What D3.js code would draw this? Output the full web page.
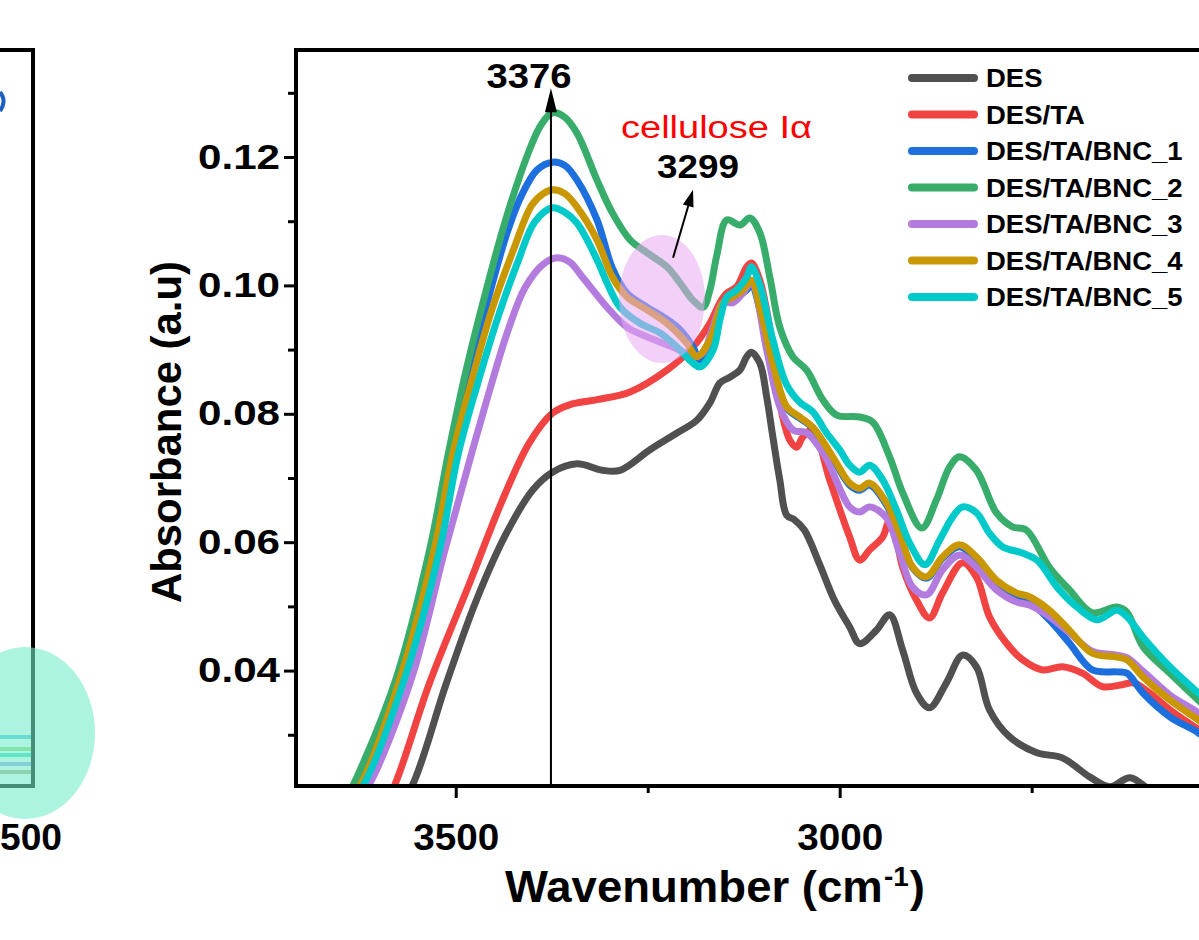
<!DOCTYPE html>
<html><head><meta charset="utf-8">
<script src="https://cdn.jsdelivr.net/npm/d3@7"></script>
<style>
body{margin:0;background:#fff;}
svg{display:block;font-family:"Liberation Sans",Arial,Helvetica,sans-serif;}
</style>
</head><body>
<svg id="c" width="1199" height="940"></svg>
<script>
// ---------------- data (wavenumber cm^-1, absorbance a.u.) ----------------
const DES = [[3575,0.0190],[3557,0.0220],[3512,0.0381],[3473,0.0510],[3434,0.0614],[3400,0.0681],[3374,0.0709],[3342,0.0722],[3309,0.0712],[3286,0.0712],[3247,0.0744],[3212,0.0770],[3186,0.0790],[3169,0.0817],[3156,0.0848],[3143,0.0857],[3130,0.0868],[3121,0.0889],[3115,0.0896],[3104,0.0879],[3095,0.0826],[3087,0.0764],[3078,0.0697],[3069,0.0642],[3059,0.0635],[3046,0.0619],[3026,0.0565],[3007,0.0510],[2987,0.0468],[2974,0.0442],[2952,0.0463],[2935,0.0487],[2918,0.0432],[2900,0.0365],[2883,0.0342],[2861,0.0381],[2840,0.0424],[2822,0.0406],[2805,0.0339],[2779,0.0297],[2743,0.0272],[2710,0.0264],[2674,0.0234],[2648,0.0219],[2622,0.0233],[2596,0.0214],[2570,0.0198],[2505,0.0152]];
const DES_TA = [[3600,0.0175],[3580,0.0220],[3534,0.0381],[3482,0.0536],[3439,0.0666],[3404,0.0755],[3374,0.0801],[3352,0.0814],[3316,0.0822],[3273,0.0834],[3225,0.0868],[3191,0.0904],[3169,0.0941],[3156,0.0973],[3147,0.0988],[3134,0.0998],[3121,0.1029],[3115,0.1035],[3104,0.1008],[3087,0.0904],[3078,0.0817],[3065,0.0759],[3056,0.0748],[3048,0.0764],[3035,0.0775],[3013,0.0697],[2987,0.0608],[2974,0.0572],[2961,0.0588],[2944,0.0608],[2935,0.0634],[2926,0.0603],[2918,0.0561],[2900,0.0510],[2883,0.0482],[2866,0.0521],[2840,0.0568],[2822,0.0546],[2805,0.0484],[2783,0.0443],[2762,0.0417],[2736,0.0401],[2710,0.0406],[2684,0.0396],[2658,0.0375],[2632,0.0378],[2618,0.0381],[2596,0.0365],[2570,0.0339],[2533,0.0308],[2505,0.0284]];
const BNC_1 = [[3640,0.0195],[3626,0.0220],[3574,0.0385],[3531,0.0583],[3507,0.0728],[3484,0.0850],[3457,0.0982],[3432,0.1086],[3414,0.1141],[3394,0.1180],[3374,0.1192],[3358,0.1187],[3342,0.1164],[3316,0.1102],[3296,0.1027],[3277,0.0988],[3251,0.0966],[3230,0.0951],[3208,0.0931],[3191,0.0904],[3182,0.0884],[3165,0.0907],[3152,0.0970],[3134,0.0982],[3121,0.0993],[3115,0.1004],[3104,0.0962],[3087,0.0876],[3069,0.0809],[3052,0.0793],[3035,0.0778],[3009,0.0731],[2987,0.0689],[2974,0.0681],[2961,0.0689],[2939,0.0658],[2922,0.0611],[2905,0.0560],[2887,0.0544],[2866,0.0575],[2844,0.0593],[2822,0.0572],[2796,0.0536],[2770,0.0515],[2753,0.0507],[2727,0.0479],[2701,0.0443],[2671,0.0401],[2639,0.0398],[2626,0.0396],[2605,0.0365],[2570,0.0328],[2533,0.0303],[2505,0.0276]];
const BNC_2 = [[3645,0.0195],[3629,0.0233],[3577,0.0390],[3534,0.0588],[3510,0.0736],[3488,0.0860],[3462,0.0985],[3433,0.1110],[3403,0.1214],[3389,0.1250],[3374,0.1269],[3358,0.1262],[3342,0.1237],[3316,0.1164],[3296,0.1113],[3273,0.1071],[3251,0.1051],[3225,0.1029],[3208,0.1004],[3191,0.0977],[3178,0.0966],[3169,0.0993],[3160,0.1047],[3147,0.1102],[3130,0.1094],[3117,0.1105],[3104,0.1082],[3091,0.1013],[3078,0.0935],[3061,0.0889],[3043,0.0868],[3022,0.0822],[3004,0.0798],[2974,0.0795],[2957,0.0787],[2935,0.0733],[2918,0.0677],[2893,0.0622],[2874,0.0666],[2857,0.0717],[2844,0.0733],[2822,0.0712],[2796,0.0646],[2775,0.0624],[2757,0.0619],[2727,0.0561],[2701,0.0526],[2671,0.0490],[2639,0.0499],[2626,0.0491],[2605,0.0437],[2570,0.0396],[2533,0.0354],[2505,0.0323]];
const BNC_3 = [[3625,0.0200],[3608,0.0233],[3557,0.0390],[3514,0.0588],[3478,0.0744],[3455,0.0840],[3433,0.0926],[3410,0.0996],[3386,0.1033],[3368,0.1043],[3351,0.1036],[3335,0.1013],[3303,0.0966],[3277,0.0935],[3251,0.0920],[3230,0.0910],[3208,0.0899],[3191,0.0889],[3178,0.0895],[3165,0.0935],[3152,0.0973],[3139,0.0973],[3126,0.0988],[3115,0.1004],[3095,0.0899],[3078,0.0811],[3061,0.0775],[3043,0.0770],[3020,0.0736],[2987,0.0655],[2974,0.0647],[2961,0.0655],[2939,0.0638],[2922,0.0583],[2905,0.0530],[2887,0.0518],[2866,0.0557],[2844,0.0580],[2822,0.0561],[2796,0.0526],[2770,0.0507],[2753,0.0502],[2727,0.0484],[2701,0.0459],[2671,0.0430],[2639,0.0424],[2626,0.0420],[2605,0.0399],[2570,0.0362],[2533,0.0334],[2505,0.0307]];
const BNC_4 = [[3642,0.0195],[3625,0.0220],[3573,0.0385],[3528,0.0588],[3504,0.0736],[3480,0.0848],[3453,0.0962],[3425,0.1055],[3401,0.1125],[3386,0.1143],[3374,0.1149],[3358,0.1143],[3342,0.1122],[3316,0.1071],[3296,0.1013],[3277,0.0982],[3251,0.0962],[3225,0.0941],[3199,0.0910],[3186,0.0889],[3169,0.0915],[3152,0.0973],[3139,0.0982],[3126,0.0993],[3115,0.1008],[3104,0.0966],[3087,0.0879],[3069,0.0811],[3052,0.0795],[3035,0.0779],[3009,0.0733],[2987,0.0692],[2974,0.0684],[2961,0.0692],[2939,0.0661],[2922,0.0614],[2905,0.0561],[2887,0.0546],[2866,0.0577],[2844,0.0596],[2822,0.0577],[2796,0.0541],[2770,0.0521],[2753,0.0515],[2727,0.0494],[2701,0.0463],[2671,0.0427],[2639,0.0421],[2626,0.0417],[2605,0.0390],[2570,0.0354],[2533,0.0323],[2505,0.0297]];
const BNC_5 = [[3638,0.0195],[3621,0.0220],[3566,0.0390],[3521,0.0588],[3497,0.0736],[3472,0.0845],[3444,0.0954],[3419,0.1037],[3397,0.1099],[3374,0.1121],[3358,0.1114],[3342,0.1097],[3316,0.1040],[3303,0.1004],[3286,0.0966],[3260,0.0941],[3234,0.0926],[3212,0.0904],[3191,0.0879],[3182,0.0873],[3165,0.0899],[3156,0.0946],[3147,0.0982],[3134,0.0993],[3121,0.1013],[3115,0.1029],[3104,0.1001],[3087,0.0915],[3069,0.0845],[3052,0.0818],[3035,0.0803],[3017,0.0770],[3000,0.0744],[2987,0.0720],[2974,0.0709],[2961,0.0720],[2944,0.0697],[2926,0.0650],[2909,0.0599],[2889,0.0565],[2870,0.0603],[2853,0.0639],[2840,0.0655],[2822,0.0646],[2805,0.0614],[2788,0.0593],[2762,0.0583],[2743,0.0572],[2717,0.0530],[2691,0.0499],[2665,0.0479],[2639,0.0494],[2626,0.0484],[2605,0.0452],[2570,0.0406],[2533,0.0365],[2505,0.0335]];

const seriesNames = ["DES","DES/TA","DES/TA/BNC_1","DES/TA/BNC_2","DES/TA/BNC_3","DES/TA/BNC_4","DES/TA/BNC_5"];
const seriesValues = [DES, DES_TA, BNC_1, BNC_2, BNC_3, BNC_4, BNC_5];
const xMajorTicks = [3500, 3000];
const xMinorTicks = [3250, 2750];
const yMajorTicks = [0.04, 0.06, 0.08, 0.10, 0.12];
const yMinorTicks = [0.03, 0.05, 0.07, 0.09, 0.11, 0.13];
const xDomain = [3708, 2480];
const yDomain = [0.02202, 0.13667];
const peakMain = 3376, peakMainArrowTop = 0.1307;
const peakCell = "3299", cellArrowFrom = [3217, 0.1043], cellArrowTo = [3191, 0.1149];

// ---------------- styles ----------------
const seriesColors = ["#505050","#f24343","#1c6fdd","#38ad6b","#b27bdd","#c99700","#00c9c9"];

const svg = d3.select("#c");
const L = 296, R = 1239, T = 50, B = 786;
const x = d3.scaleLinear().domain(xDomain).range([L, R]);
const y = d3.scaleLinear().domain(yDomain).range([B, T]);

const fit = (sel, w) => sel.attr("textLength", w).attr("lengthAdjust", "spacingAndGlyphs");

// ---------- left partial panel ----------
const lp = svg.append("g");
const leftLines = [[737,"#56c6dc"],[749,"#93d47a"],[755,"#3ed8c4"],[764,"#9aa6e0"],[772,"#b6a98a"]];
leftLines.forEach(d => lp.append("line").attr("x1",0).attr("x2",31).attr("y1",d[0]).attr("y2",d[0])
  .attr("stroke",d[1]).attr("stroke-width",4));
lp.append("path").attr("d","M0,50 H33 V786 H0").attr("fill","none").attr("stroke","#000").attr("stroke-width",4);
lp.append("path").attr("d","M0,92 Q7,101 0,111").attr("fill","none").attr("stroke","#1f5fc0").attr("stroke-width",4);
lp.append("ellipse").attr("cx",25).attr("cy",733).attr("rx",70).attr("ry",86)
  .attr("fill","rgb(119,237,203)").attr("opacity",0.6);
fit(lp.append("text").attr("x",0).attr("y",850).attr("font-size",36).attr("font-weight","bold").text("500"), 62);

// ---------- clip ----------
svg.append("defs").append("clipPath").attr("id","clip").append("rect")
  .attr("x",L).attr("y",T).attr("width",R-L).attr("height",B-T);

// ---------- lines ----------
const line = d3.line().x(d => x(d[0])).y(d => y(d[1])).curve(d3.curveCatmullRom.alpha(0.5));
const gl = svg.append("g").attr("clip-path","url(#clip)");
seriesValues.forEach((s,i) => {
  gl.append("path").attr("d", line(s)).attr("fill","none").attr("stroke",seriesColors[i])
    .attr("stroke-width",7).attr("stroke-linejoin","round").attr("stroke-linecap","round");
});

// pink highlight
gl.append("ellipse").attr("cx",662).attr("cy",299).attr("rx",43).attr("ry",64)
  .attr("fill","rgb(231,169,242)").attr("opacity",0.55);

// ---------- axes ----------
const xAxis = svg.append("g").attr("transform",`translate(0,${B})`)
  .call(d3.axisBottom(x).tickValues(xMajorTicks).tickSize(12).tickPadding(26).tickFormat(d3.format("d")));
svg.append("g").attr("transform",`translate(0,${B})`)
  .call(d3.axisBottom(x).tickValues(xMinorTicks).tickSize(7).tickFormat(""));
const yAxis = svg.append("g").attr("transform",`translate(${L},0)`)
  .call(d3.axisLeft(y).tickValues(yMajorTicks).tickSize(12).tickPadding(4).tickFormat(d3.format(".2f")));
svg.append("g").attr("transform",`translate(${L},0)`)
  .call(d3.axisLeft(y).tickValues(yMinorTicks).tickSize(8).tickFormat(""));
svg.selectAll(".domain").remove();
svg.selectAll(".tick line").attr("stroke","#000").attr("stroke-width",3);
xAxis.selectAll("text").attr("font-size",36).attr("font-weight","bold").attr("fill","#000")
  .attr("font-family","Liberation Sans, Arial, sans-serif").call(s => fit(s, 86));
yAxis.selectAll("text").attr("font-size",35).attr("font-weight","bold").attr("fill","#000")
  .attr("font-family","Liberation Sans, Arial, sans-serif").call(s => fit(s, 82));

// frame
svg.append("rect").attr("x",L).attr("y",T).attr("width",R-L).attr("height",B-T)
  .attr("fill","none").attr("stroke","#000").attr("stroke-width",4);

// ---------- annotations ----------
const xv = x(peakMain), yTop = y(peakMainArrowTop);
svg.append("line").attr("x1",xv).attr("x2",xv).attr("y1",B).attr("y2",yTop+10)
  .attr("stroke","#000").attr("stroke-width",2);
svg.append("path").attr("d",`M${xv},${yTop} L${xv-6},${yTop+24} L${xv+6},${yTop+24} Z`).attr("fill","#000");
fit(svg.append("text").attr("x",529).attr("y",88).attr("text-anchor","middle").attr("font-size",35)
  .attr("font-weight","bold").text(String(peakMain)), 85);

const ax0 = x(cellArrowFrom[0]), ay0 = y(cellArrowFrom[1]), ax1 = x(cellArrowTo[0]), ay1 = y(cellArrowTo[1]);
const ang = Math.atan2(ay1-ay0, ax1-ax0);
const hl = 17, hw = 5.5;
const bx = ax1 - hl*Math.cos(ang), by = ay1 - hl*Math.sin(ang);
svg.append("line").attr("x1",ax0).attr("y1",ay0).attr("x2",bx).attr("y2",by).attr("stroke","#000").attr("stroke-width",2);
svg.append("path").attr("d",`M${ax1},${ay1} L${bx - hw*Math.sin(ang)},${by + hw*Math.cos(ang)} L${bx + hw*Math.sin(ang)},${by - hw*Math.cos(ang)} Z`).attr("fill","#000");
fit(svg.append("text").attr("x",698).attr("y",178).attr("text-anchor","middle").attr("font-size",33)
  .attr("font-weight","bold").text(peakCell), 82);
fit(svg.append("text").attr("x",621).attr("y",138).attr("font-size",31).attr("fill","#ff0000")
  .text("cellulose Iα"), 191);

// ---------- legend ----------
const lg = svg.append("g");
const legY0 = 78, legDy = 36.5;
seriesNames.forEach((n,i) => {
  const yy = legY0 + i*legDy;
  lg.append("line").attr("x1",912).attr("x2",974).attr("y1",yy).attr("y2",yy)
    .attr("stroke",seriesColors[i]).attr("stroke-width",8).attr("stroke-linecap","round");
  const t = lg.append("text").attr("x",986).attr("y",yy+9).attr("font-size",25).attr("font-weight","bold").text(n);
  t.attr("textLength", t.node().getComputedTextLength()*1.1).attr("lengthAdjust","spacingAndGlyphs");
});

// ---------- axis titles ----------
const yl = svg.append("text").attr("transform","translate(181,432) rotate(-90)").attr("text-anchor","middle")
  .attr("font-size",42).attr("font-weight","bold").text("Absorbance (a.u)");
fit(yl, 342);

const xg = svg.append("g");
const t1 = xg.append("text").attr("x",0).attr("y",0).attr("font-size",44).attr("font-weight","bold").text("Wavenumber (cm");
const w1 = t1.node().getComputedTextLength();
const t2 = xg.append("text").attr("x",w1+1).attr("y",-16).attr("font-size",27).attr("font-weight","bold").text("-1");
const w2 = t2.node().getComputedTextLength();
const t3 = xg.append("text").attr("x",w1+w2+2).attr("y",0).attr("font-size",44).attr("font-weight","bold").text(")");
const w3 = t3.node().getComputedTextLength();
xg.attr("transform",`translate(505,902) scale(${420/(w1+w2+2+w3)},1)`);
</script>
</body></html>
